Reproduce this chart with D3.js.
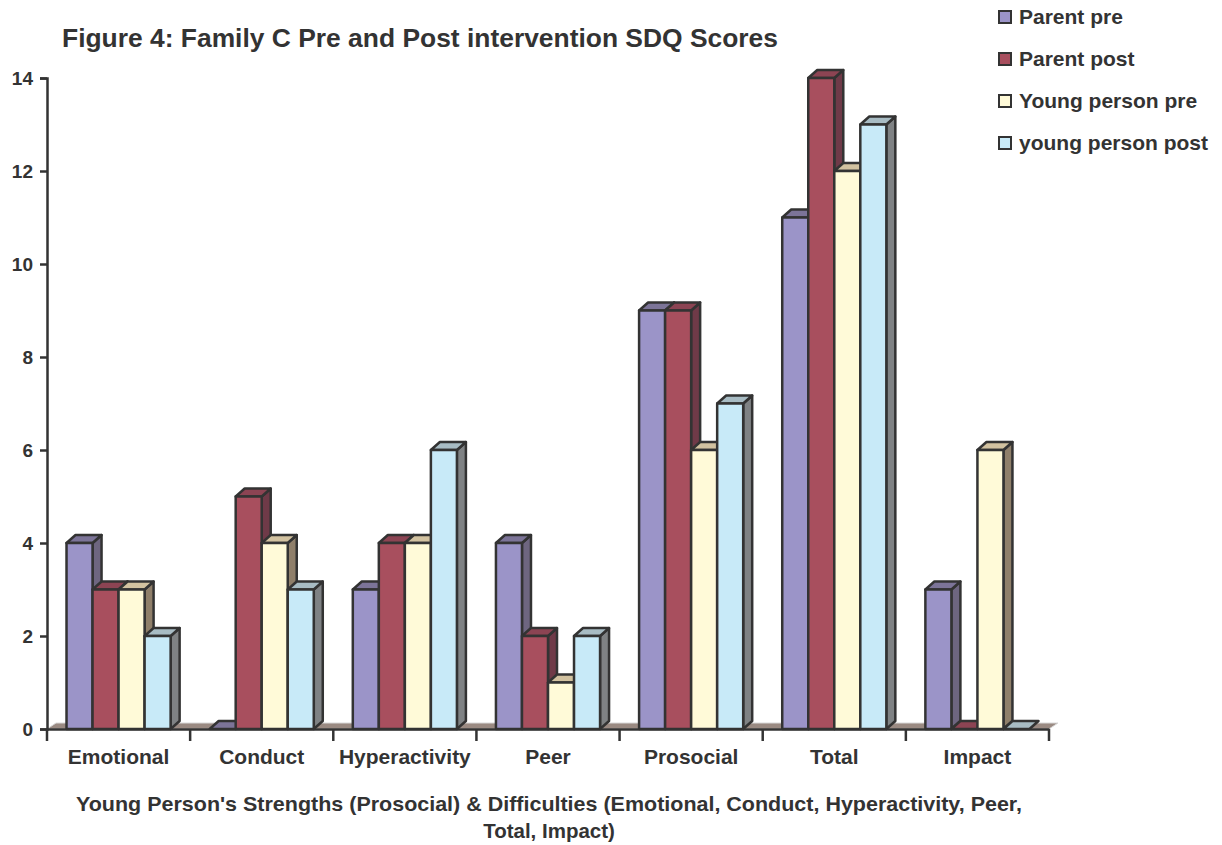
<!DOCTYPE html>
<html><head><meta charset="utf-8">
<script src="https://cdn.jsdelivr.net/npm/d3@7"></script>
<style>body{margin:0;background:#fff;} svg{display:block;font-family:"Liberation Sans",Arial,sans-serif;}</style>
</head><body>
<svg id="c" width="1222" height="845"></svg>
<script>
const categories = ["Emotional","Conduct","Hyperactivity","Peer","Prosocial","Total","Impact"];
const seriesNames = ["Parent pre","Parent post","Young person pre","young person post"];
const parentPre = [4,0,3,4,9,11,3];
const parentPost = [3,5,4,2,9,14,0];
const youngPre = [3,4,4,1,6,12,6];
const youngPost = [2,3,6,2,7,13,0];
const yTicks = [0,2,4,6,8,10,12,14];
const seriesValues = [parentPre,parentPost,youngPre,youngPost];
const frontCol = ["#9b94c8","#a84f5e","#fffad8","#c8eaf8"];
const sideCol = ["#6e6680","#6f3a48","#8f7f6a","#7f8284"];
const topCol = ["#7c7498","#8c4453","#d2c2a0","#a8bcc4"];

const svg = d3.select("#c");
const x0 = 47, x1 = 1049, yB = 729, yT = 78;
const dx = 9, dy = 8;
const x = d3.scaleBand().domain(categories).range([x0,x1]).paddingInner(0).paddingOuter(0);
const xs = d3.scaleBand().domain(seriesNames).range([0,x.bandwidth()]).paddingInner(0).paddingOuter(0.75);
const y = d3.scaleLinear().domain([0,14]).range([yB,yT]);
const ink = "#333";
const ff = "Liberation Sans, Arial, sans-serif";

// floor
svg.append("path")
  .attr("d",`M${x0},${yB} L${x0+dx},${yB-dy+2} L${x1+dx},${yB-dy+2} L${x1},${yB} Z`)
  .attr("fill","#9a8a82").attr("stroke","#d8d8d8").attr("stroke-width",1);

// bars
categories.forEach((c,ci)=>{
  seriesNames.forEach((s,si)=>{
    const v = seriesValues[si][ci];
    const bx = x(c)+xs(s), bw = xs.bandwidth();
    const by = y(v), bb = y(0);
    const g = svg.append("g").attr("stroke",ink).attr("stroke-width",2.5).attr("stroke-linejoin","round");
    if (v>0){
      g.append("path").attr("d",`M${bx+bw},${by} L${bx+bw+dx},${by-dy} L${bx+bw+dx},${bb-dy} L${bx+bw},${bb} Z`).attr("fill",sideCol[si]);
      g.append("path").attr("d",`M${bx},${by} L${bx+dx},${by-dy} L${bx+bw+dx},${by-dy} L${bx+bw},${by} Z`).attr("fill",topCol[si]);
      g.append("rect").attr("x",bx).attr("y",by).attr("width",bw).attr("height",bb-by).attr("fill",frontCol[si]);
    } else {
      g.append("path").attr("d",`M${bx},${bb} L${bx+dx},${bb-dy} L${bx+bw+dx},${bb-dy} L${bx+bw},${bb} Z`).attr("fill",topCol[si]);
    }
  });
});

// axes
const yAxis = d3.axisLeft(y).tickValues(yTicks).tickSize(7).tickPadding(7);
const ga = svg.append("g").attr("transform",`translate(${x0},0)`).call(yAxis);
ga.select(".domain").attr("stroke",ink).attr("stroke-width",2.5);
ga.selectAll(".tick line").attr("stroke",ink).attr("stroke-width",2.5);
ga.selectAll(".tick text").attr("fill",ink).attr("font-size",19).attr("font-weight","bold").attr("font-family",ff);

const xAxis = d3.axisBottom(x).tickSize(0).tickPadding(22);
const gx = svg.append("g").attr("transform",`translate(0,${yB})`).call(xAxis);
gx.select(".domain").attr("stroke",ink).attr("stroke-width",2.5);
gx.selectAll(".tick text").attr("fill",ink).attr("font-size",21).attr("font-weight","bold").attr("font-family",ff).attr("dy","0.6em");
// category boundary ticks
const bounds = categories.map(c=>x(c)).concat([x1]);
svg.append("g").selectAll("line").data(bounds).join("line")
  .attr("x1",d=>d).attr("x2",d=>d).attr("y1",yB).attr("y2",yB+12)
  .attr("stroke",ink).attr("stroke-width",2.5);

// title
svg.append("text").attr("x",62).attr("y",47).text("Figure 4: Family C Pre and Post intervention SDQ Scores")
  .attr("font-size",25).attr("font-weight","bold").attr("fill",ink)
  .attr("textLength",716).attr("lengthAdjust","spacingAndGlyphs");

// x title
const xt = svg.append("g").attr("font-size",20.5).attr("font-weight","bold").attr("fill",ink);
xt.append("text").attr("x",76).attr("y",811).text("Young Person's Strengths (Prosocial) & Difficulties (Emotional, Conduct, Hyperactivity, Peer,")
  .attr("textLength",946).attr("lengthAdjust","spacingAndGlyphs");
xt.append("text").attr("x",549).attr("y",838).attr("text-anchor","middle").text("Total, Impact)");

// legend
const lg = svg.append("g");
seriesNames.forEach((s,i)=>{
  const cy = 17 + i*42;
  lg.append("rect").attr("x",999).attr("y",cy-6).attr("width",12).attr("height",12)
    .attr("fill",frontCol[i]).attr("stroke",ink).attr("stroke-width",2);
  lg.append("text").attr("x",1019).attr("y",cy+7).text(s).attr("font-size",21).attr("font-weight","bold").attr("fill",ink);
});
</script>
</body></html>
